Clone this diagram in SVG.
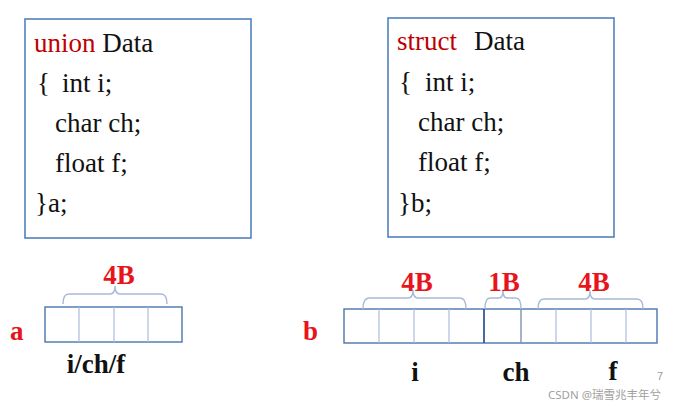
<svg xmlns="http://www.w3.org/2000/svg" width="677" height="406" viewBox="0 0 677 406">
<style>
.box{fill:#fff;stroke:#4f81bd;stroke-width:1.6}
.code{font-family:'Liberation Serif',Tinos,'Times New Roman',Times,'Noto Serif','DejaVu Serif',serif;font-size:27px;fill:#111}
.kw{fill:#c00000}
.lbl{font-family:'Liberation Serif',Tinos,'Times New Roman',Times,'Noto Serif','DejaVu Serif',serif;font-size:27px;font-weight:bold;fill:#e8141b}
.var{font-family:'Liberation Serif',Tinos,'Times New Roman',Times,'Noto Serif','DejaVu Serif',serif;font-size:27px;font-weight:bold;fill:#111}
.outer{fill:none;stroke:#4a74b0;stroke-width:1.4}
.div{stroke:#a9bddb;stroke-width:1.2}
.brace{fill:none;stroke:#a8b9d6;stroke-width:1.4}
.wm{font-family:'Noto Sans','Noto Sans CJK SC',sans-serif;font-size:11.5px;fill:#a0a0a0}
</style>
<rect width="677" height="406" fill="#fff"/>
<g id="union-box">
<rect class="box" x="25" y="19" width="226" height="219"/>
<text class="code" x="34" y="52"><tspan class="kw">union</tspan> Data</text>
<text class="code" x="37" y="92">{<tspan x="62">int i;</tspan></text>
<text class="code" x="55" y="132">char ch;</text>
<text class="code" x="55" y="172">float f;</text>
<text class="code" x="35" y="212">}a;</text>
</g>
<g id="struct-box">
<rect class="box" x="388" y="18" width="226" height="219"/>
<text class="code" x="397" y="50"><tspan class="kw">struct</tspan><tspan x="474">Data</tspan></text>
<text class="code" x="399" y="91">{<tspan x="425">int i;</tspan></text>
<text class="code" x="418" y="131">char ch;</text>
<text class="code" x="418" y="171">float f;</text>
<text class="code" x="398" y="212">}b;</text>
</g>
<g id="union-memory">
<text class="lbl" x="10" y="340">a</text>
<rect class="outer" x="45" y="307" width="137" height="35"/>
<line class="div" x1="79" y1="307" x2="79" y2="342"/>
<line class="div" x1="114" y1="307" x2="114" y2="342"/>
<line class="div" x1="148" y1="307" x2="148" y2="342"/>
<path class="brace" d="M63,304 Q63,294 69,294 L110,294 Q115,294 115,286 Q115,294 120,294 L161,294 Q167,294 167,304"/>
<text class="lbl" x="119" y="284" text-anchor="middle">4B</text>
<text class="var" x="96" y="373" text-anchor="middle">i/ch/f</text>
</g>
<g id="struct-memory">
<text class="lbl" x="303" y="340">b</text>
<rect class="outer" x="344" y="309" width="313" height="34"/>
<line class="div" x1="379" y1="309" x2="379" y2="343"/>
<line class="div" x1="414" y1="309" x2="414" y2="343"/>
<line class="div" x1="449" y1="309" x2="449" y2="343"/>
<line x1="484" y1="309" x2="484" y2="343" stroke="#2f5d9e" stroke-width="1.8"/>
<line x1="521" y1="309" x2="521" y2="343" stroke="#7f93b0" stroke-width="1.4"/>
<line class="div" x1="556" y1="309" x2="556" y2="343"/>
<line class="div" x1="591" y1="309" x2="591" y2="343"/>
<line class="div" x1="626" y1="309" x2="626" y2="343"/>
<path class="brace" d="M363,309 Q363,298 369,298 L408,298 Q413,298 413,290 Q413,298 418,298 L460,298 Q466,298 466,309"/>
<path class="brace" d="M485,309 Q485,298 490,298 L499,298 Q503,298 503,290 Q503,298 507,298 L516,298 Q521,298 521,309"/>
<path class="brace" d="M538,309 Q538,299 544,299 L585,299 Q590,299 590,291 Q590,299 595,299 L637,299 Q643,299 643,309"/>
<text class="lbl" x="417" y="291" text-anchor="middle">4B</text>
<text class="lbl" x="504" y="291" text-anchor="middle">1B</text>
<text class="lbl" x="594" y="291" text-anchor="middle">4B</text>
<text class="var" x="415" y="381" text-anchor="middle">i</text>
<text class="var" x="516" y="381" text-anchor="middle">ch</text>
<text class="var" x="613" y="380" text-anchor="middle">f</text>
</g>
<text x="657" y="380" font-family="'Liberation Sans',sans-serif" font-size="11" fill="#999">7</text>
<text class="wm" x="548" y="399">CSDN @瑞雪兆丰年兮</text>
</svg>
